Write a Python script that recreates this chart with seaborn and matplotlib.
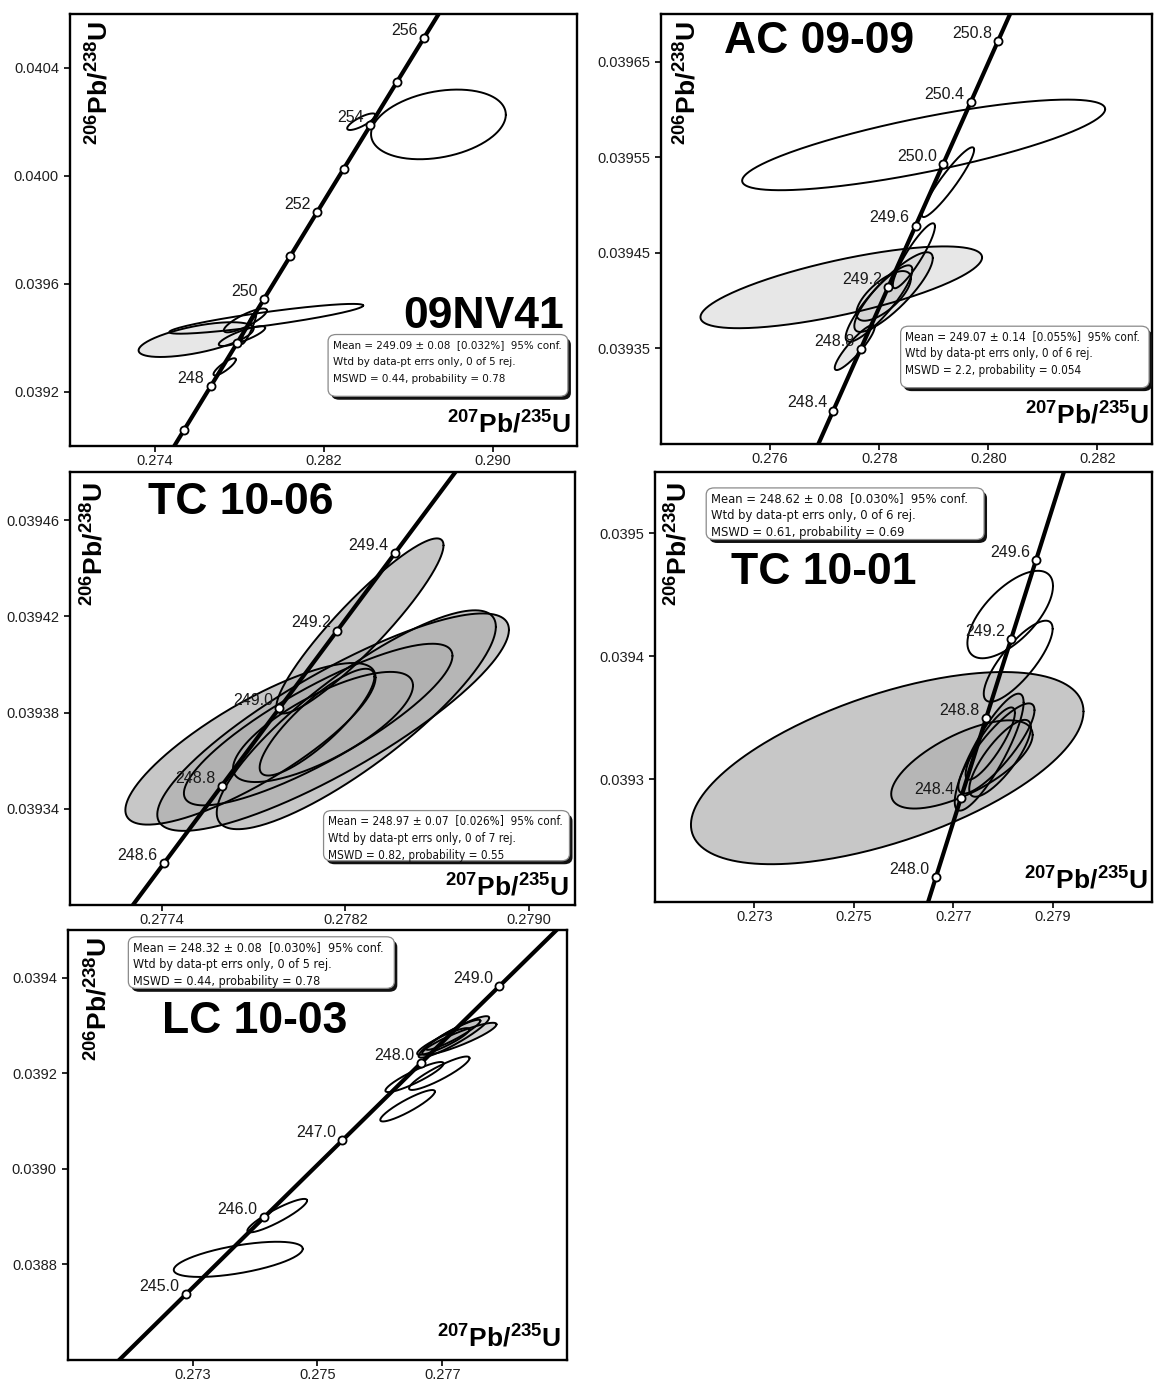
import numpy as np
import pandas as pd
import matplotlib
matplotlib.use("Agg")
import matplotlib.pyplot as plt
from matplotlib import font_manager
from matplotlib.patches import FancyBboxPatch
import seaborn as sns

sns.set_theme(style="ticks")
plt.rcParams["font.family"] = ["Liberation Sans", "DejaVu Sans"]
plt.rcParams["text.color"] = "black"
plt.rcParams["axes.labelcolor"] = "black"
plt.rcParams["mathtext.fontset"] = "custom"
plt.rcParams["mathtext.rm"] = "Liberation Sans"
plt.rcParams["mathtext.bf"] = "Liberation Sans:bold"

# narrow face for the statistics boxes, with fallbacks
_fonts = font_manager.fontManager.ttflist
_names = {f.name for f in _fonts}
_dejavu_cond = any(f.name == "DejaVu Sans" and "condensed" in str(f.stretch) for f in _fonts)
if "Liberation Sans Narrow" in _names:
    NARROW, NARROW_STRETCH, NARROW_SCALE = "Liberation Sans Narrow", "normal", 1.0
elif _dejavu_cond:
    NARROW, NARROW_STRETCH, NARROW_SCALE = "DejaVu Sans", "condensed", 0.88
else:
    NARROW, NARROW_STRETCH, NARROW_SCALE = "Liberation Sans", "normal", 0.9

# U decay constants (1/yr)
L238 = 1.55125e-10
L235 = 9.8485e-10

# ---------------- 09NV41 ----------------
nv41_xticks = [0.274, 0.282, 0.290]
nv41_xticklabels = ["0.274", "0.282", "0.290"]
nv41_yticks = [0.0392, 0.0396, 0.0400, 0.0404]
nv41_yticklabels = ["0.0392", "0.0396", "0.0400", "0.0404"]
nv41_marker_ages = [247, 248, 249, 250, 251, 252, 253, 254, 255, 256]
nv41_label_ages = [248, 250, 252, 254, 256]
nv41_cx = [0.28744, 0.28379, 0.27929, 0.275965, 0.27830, 0.27814, 0.27847, 0.27732]
nv41_sx = [0.00319, 0.00067, 0.00459, 0.00272, 0.00102, 0.00110, 0.00035, 0.00053]
nv41_cy = [0.040191, 0.040201, 0.039471, 0.039394, 0.039465, 0.039407, 0.039437, 0.039293]
nv41_sy = [0.000129, 0.0000307, 0.0000552, 0.0000644, 0.0000441, 0.0000368, 0.0000589, 0.0000319]
nv41_rho = [0.28, 0.80, 0.89, 0.62, 0.83, 0.83, 0.90, 0.85]
nv41_filled = [False, False, False, True, False, False, False, False]
nv41_stats = ["Mean = 249.09 \u00b1 0.08  [0.032%]  95% conf.",
              "Wtd by data-pt errs only, 0 of 5 rej.",
              "MSWD = 0.44, probability = 0.78"]

# ---------------- AC 09-09 ----------------
ac_xticks = [0.276, 0.278, 0.280, 0.282]
ac_xticklabels = ["0.276", "0.278", "0.280", "0.282"]
ac_yticks = [0.03935, 0.03945, 0.03955, 0.03965]
ac_yticklabels = ["0.03935", "0.03945", "0.03955", "0.03965"]
ac_marker_ages = [248.4, 248.8, 249.2, 249.6, 250.0, 250.4, 250.8]
ac_label_ages = [248.4, 248.8, 249.2, 249.6, 250.0, 250.4, 250.8]
ac_cx = [0.278814, 0.277304, 0.279260, 0.278635, 0.278262, 0.277996, 0.277550, 0.278080]
ac_sx = [0.003327, 0.002581, 0.000479, 0.000386, 0.000719, 0.000612, 0.000366, 0.000500]
ac_cy = [0.039563, 0.039414, 0.039524, 0.039447, 0.039409, 0.039397, 0.039351, 0.039405]
ac_sy = [0.0000474, 0.0000428, 0.0000365, 0.0000340, 0.0000417, 0.0000400, 0.0000236, 0.0000260]
ac_rho = [0.79, 0.73, 0.93, 0.90, 0.85, 0.88, 0.90, 0.70]
ac_filled = [False, True, False, False, True, True, True, True]
ac_stats = ["Mean = 249.07 \u00b1 0.14  [0.055%]  95% conf.",
            "Wtd by data-pt errs only, 0 of 6 rej.",
            "MSWD = 2.2, probability = 0.054"]

# ---------------- TC 10-06 ----------------
tc06_xticks = [0.2774, 0.2782, 0.2790]
tc06_xticklabels = ["0.2774", "0.2782", "0.2790"]
tc06_yticks = [0.03934, 0.03938, 0.03942, 0.03946]
tc06_yticklabels = ["0.03934", "0.03938", "0.03942", "0.03946"]
tc06_marker_ages = [248.6, 248.8, 249.0, 249.2, 249.4]
tc06_label_ages = [248.6, 248.8, 249.0, 249.2, 249.4]
tc06_cx = [0.278263, 0.277786, 0.278146, 0.278247, 0.278081, 0.278102, 0.278076]
tc06_sx = [0.000364, 0.000545, 0.000766, 0.000608, 0.000585, 0.000392, 0.000250]
tc06_cy = [0.039416, 0.039367, 0.039376, 0.039377, 0.039375, 0.039374, 0.039376]
tc06_sy = [0.0000364, 0.0000336, 0.0000452, 0.0000455, 0.0000336, 0.0000229, 0.0000222]
tc06_rho = [0.92, 0.82, 0.85, 0.85, 0.85, 0.75, 0.85]
tc06_filled = [True, True, True, True, True, True, True]
tc06_stats = ["Mean = 248.97 \u00b1 0.07  [0.026%]  95% conf.",
              "Wtd by data-pt errs only, 0 of 7 rej.",
              "MSWD = 0.82, probability = 0.55"]

# ---------------- TC 10-01 ----------------
tc01_xticks = [0.273, 0.275, 0.277, 0.279]
tc01_xticklabels = ["0.273", "0.275", "0.277", "0.279"]
tc01_yticks = [0.0393, 0.0394, 0.0395]
tc01_yticklabels = ["0.0393", "0.0394", "0.0395"]
tc01_marker_ages = [248.0, 248.4, 248.8, 249.2, 249.6]
tc01_label_ages = [248.0, 248.4, 248.8, 249.2, 249.6]
tc01_cx = [0.275672, 0.277175, 0.278146, 0.278307, 0.277723, 0.277869, 0.277745, 0.277942]
tc01_sx = [0.003949, 0.001423, 0.000861, 0.000693, 0.000693, 0.000766, 0.000496, 0.000620]
tc01_cy = [0.039309, 0.039312, 0.039434, 0.039396, 0.039322, 0.039325, 0.039329, 0.039317]
tc01_sy = [0.0000782, 0.0000359, 0.0000356, 0.0000330, 0.0000476, 0.0000367, 0.0000294, 0.0000313]
tc01_rho = [0.59, 0.67, 0.65, 0.80, 0.85, 0.85, 0.85, 0.80]
tc01_filled = [True, True, False, False, True, True, True, True]
tc01_stats = ["Mean = 248.62 \u00b1 0.08  [0.030%]  95% conf.",
              "Wtd by data-pt errs only, 0 of 6 rej.",
              "MSWD = 0.61, probability = 0.69"]

# ---------------- LC 10-03 ----------------
lc_xticks = [0.273, 0.275, 0.277]
lc_xticklabels = ["0.273", "0.275", "0.277"]
lc_yticks = [0.0388, 0.0390, 0.0392, 0.0394]
lc_yticklabels = ["0.0388", "0.0390", "0.0392", "0.0394"]
lc_marker_ages = [245.0, 246.0, 247.0, 248.0, 249.0]
lc_label_ages = [245.0, 246.0, 247.0, 248.0, 249.0]
lc_cx = [0.273730, 0.274355, 0.276445, 0.276556, 0.276953, 0.277187, 0.277275, 0.277175, 0.277018]
lc_sx = [0.001034, 0.000479, 0.000438, 0.000467, 0.000485, 0.000566, 0.000596, 0.000438, 0.000420]
lc_cy = [0.0388105, 0.038902, 0.039132, 0.039192, 0.039200, 0.039276, 0.039272, 0.0392805, 0.0392665]
lc_sy = [0.0000368, 0.0000350, 0.0000329, 0.0000315, 0.0000350, 0.0000434, 0.0000336, 0.0000315, 0.0000280]
lc_rho = [0.60, 0.90, 0.90, 0.90, 0.90, 0.92, 0.90, 0.93, 0.90]
lc_filled = [False, False, False, False, False, True, True, True, True]
lc_stats = ["Mean = 248.32 \u00b1 0.08  [0.030%]  95% conf.",
            "Wtd by data-pt errs only, 0 of 5 rej.",
            "MSWD = 0.44, probability = 0.78"]

XLABEL = r"$^{\mathbf{207}}\mathbf{Pb/}^{\mathbf{235}}\mathbf{U}$"
YLABEL = r"$^{\mathbf{206}}\mathbf{Pb/}^{\mathbf{238}}\mathbf{U}$"


def concordia(ages_ma):
    t = np.asarray(ages_ma, dtype=float) * 1e6
    return np.expm1(L235 * t), np.expm1(L238 * t)


def ellipse_outline(cx, sx, cy, sy, rho, n=300):
    t = np.linspace(0, 2 * np.pi, n)
    x = cx + sx * np.cos(t)
    y = cy + sy * (rho * np.cos(t) + np.sqrt(1 - rho ** 2) * np.sin(t))
    return x, y


def draw_panel(rect, xlim, ylim, xticks, xticklabels, yticks, yticklabels,
               marker_ages, label_ages, label_fmt,
               cx, sx, cy, sy, rho, filled, fill_color, fill_alpha,
               title, title_xy, title_ha,
               box, stats, stats_fs, xlabel_xy, ylabel_xy):
    ax = fig.add_axes(rect)
    ax.set_xlim(*xlim)
    ax.set_ylim(*ylim)

    # error ellipses: fills first, then outlines
    ell = pd.DataFrame({"cx": cx, "sx": sx, "cy": cy, "sy": sy, "rho": rho, "filled": filled})
    outlines = [ellipse_outline(r.cx, r.sx, r.cy, r.sy, r.rho) for r in ell.itertuples()]
    for (ex, ey), f in zip(outlines, ell["filled"]):
        if f:
            ax.fill(ex, ey, facecolor=fill_color, alpha=fill_alpha, edgecolor="none", zorder=2)
    for ex, ey in outlines:
        ax.plot(ex, ey, color="black", lw=1.4, zorder=3)

    # concordia curve
    t0 = np.log1p(ylim[0]) / L238 / 1e6 - 1.0
    t1 = np.log1p(ylim[1]) / L238 / 1e6 + 1.0
    cx_c, cy_c = concordia(np.linspace(t0, t1, 400))
    sns.lineplot(x=cx_c, y=cy_c, ax=ax, color="black", lw=3.0, sort=False,
                 estimator=None, zorder=4)

    # age ticks on the concordia
    mx, my = concordia(marker_ages)
    sns.scatterplot(x=mx, y=my, ax=ax, s=34, color="white", edgecolor="black",
                    linewidth=1.3, zorder=6, legend=False)
    lx, ly = concordia(label_ages)
    for a, xa, ya in zip(label_ages, lx, ly):
        ax.annotate(label_fmt.format(a), (xa, ya), xytext=(-4.5, 5.5),
                    textcoords="offset points", ha="right", va="center",
                    fontsize=11.5, color="#1a1a1a", zorder=7)

    ax.set_xticks(xticks)
    ax.set_xticklabels(xticklabels)
    ax.set_yticks(yticks)
    ax.set_yticklabels(yticklabels)
    ax.tick_params(direction="out", length=4, width=1.2, labelsize=10.5,
                   colors="black", labelcolor="#1e1e1e")
    ax.tick_params(axis="x", pad=1.5)
    ax.tick_params(axis="y", pad=4)
    for sp in ax.spines.values():
        sp.set_visible(True)
        sp.set_linewidth(1.7)
        sp.set_color("black")
    ax.set_xlabel("")
    ax.set_ylabel("")

    # sample name
    ax.text(title_xy[0], title_xy[1], title, transform=ax.transAxes, color="black",
            ha=title_ha, va="baseline", fontsize=32, fontweight="bold", zorder=9)

    # axis labels drawn inside the frame
    ax.text(xlabel_xy[0], xlabel_xy[1], XLABEL, transform=ax.transAxes, color="black",
            ha="right", va="baseline", fontsize=19, zorder=9)
    ax.text(ylabel_xy[0], ylabel_xy[1], YLABEL, transform=ax.transAxes, color="black",
            rotation=90, ha="center", va="top", fontsize=19, zorder=9)

    # weighted-mean statistics box with drop shadow
    x0, y0, x1, y1 = box
    w, h = x1 - x0, y1 - y0
    style = "round,pad=0,rounding_size=0.016"
    shadow = FancyBboxPatch((x0 + 0.006, y0 - 0.008), w, h, boxstyle=style,
                            transform=ax.transAxes, facecolor="#111111",
                            edgecolor="none", zorder=10, clip_on=False)
    panel = FancyBboxPatch((x0, y0), w, h, boxstyle=style, transform=ax.transAxes,
                           facecolor="white", edgecolor="#8a8a8a", lw=0.9,
                           zorder=11, clip_on=False)
    ax.add_patch(shadow)
    ax.add_patch(panel)
    for i, line in enumerate(stats):
        ax.text(x0 + 0.009, y1 - 0.024 - i * 0.040, line, transform=ax.transAxes,
                ha="left", va="center", fontsize=stats_fs * NARROW_SCALE,
                family=[NARROW, "DejaVu Sans"], fontstretch=NARROW_STRETCH,
                color="#111111", zorder=12)
    return ax


fig = plt.figure(figsize=(11.54, 13.85), dpi=100)

draw_panel([0.0607, 0.678, 0.4393, 0.3119], (0.270, 0.294), (0.0390, 0.0406),
           nv41_xticks, nv41_xticklabels, nv41_yticks, nv41_yticklabels,
           nv41_marker_ages, nv41_label_ages, "{:.0f}",
           nv41_cx, nv41_sx, nv41_cy, nv41_sy, nv41_rho, nv41_filled, "#d0d0d0", 0.5,
           "09NV41", (0.974, 0.273), "right",
           (0.509, 0.115, 0.982, 0.258), nv41_stats, 9.4,
           (0.989, 0.033), (0.056, 0.985))

draw_panel([0.5728, 0.6794, 0.4255, 0.3105], (0.274, 0.283), (0.03925, 0.0397),
           ac_xticks, ac_xticklabels, ac_yticks, ac_yticklabels,
           ac_marker_ages, ac_label_ages, "{:.1f}",
           ac_cx, ac_sx, ac_cy, ac_sy, ac_rho, ac_filled, "#d0d0d0", 0.5,
           "AC 09-09", (0.129, 0.909), "left",
           (0.488, 0.131, 0.994, 0.274), ac_stats, 9.6,
           (0.995, 0.049), (0.052, 0.985))

draw_panel([0.0607, 0.3466, 0.4376, 0.3126], (0.2770, 0.2792), (0.0393, 0.03948),
           tc06_xticks, tc06_xticklabels, tc06_yticks, tc06_yticklabels,
           tc06_marker_ages, tc06_label_ages, "{:.1f}",
           tc06_cx, tc06_sx, tc06_cy, tc06_sy, tc06_rho, tc06_filled, "#b0b0b0", 0.7,
           "TC 10-06", (0.154, 0.902), "left",
           (0.502, 0.102, 0.989, 0.218), tc06_stats, 9.6,
           (0.989, 0.022), (0.046, 0.978))

draw_panel([0.5676, 0.3487, 0.4307, 0.3105], (0.271, 0.281), (0.0392, 0.03955),
           tc01_xticks, tc01_xticklabels, tc01_yticks, tc01_yticklabels,
           tc01_marker_ages, tc01_label_ages, "{:.1f}",
           tc01_cx, tc01_sx, tc01_cy, tc01_sy, tc01_rho, tc01_filled, "#b0b0b0", 0.7,
           "TC 10-01", (0.153, 0.740), "left",
           (0.103, 0.843, 0.662, 0.963), tc01_stats, 10.6,
           (0.993, 0.033), (0.045, 0.978))

draw_panel([0.0589, 0.0181, 0.4324, 0.3105], (0.271, 0.279), (0.0386, 0.0395),
           lc_xticks, lc_xticklabels, lc_yticks, lc_yticklabels,
           lc_marker_ages, lc_label_ages, "{:.1f}",
           lc_cx, lc_sx, lc_cy, lc_sy, lc_rho, lc_filled, "#b8b8b8", 0.6,
           "LC 10-03", (0.1875, 0.760), "left",
           (0.121, 0.864, 0.654, 0.984), lc_stats, 10.2,
           (0.989, 0.033), (0.059, 0.985))

fig.savefig("out.png", dpi=100, facecolor="white")
